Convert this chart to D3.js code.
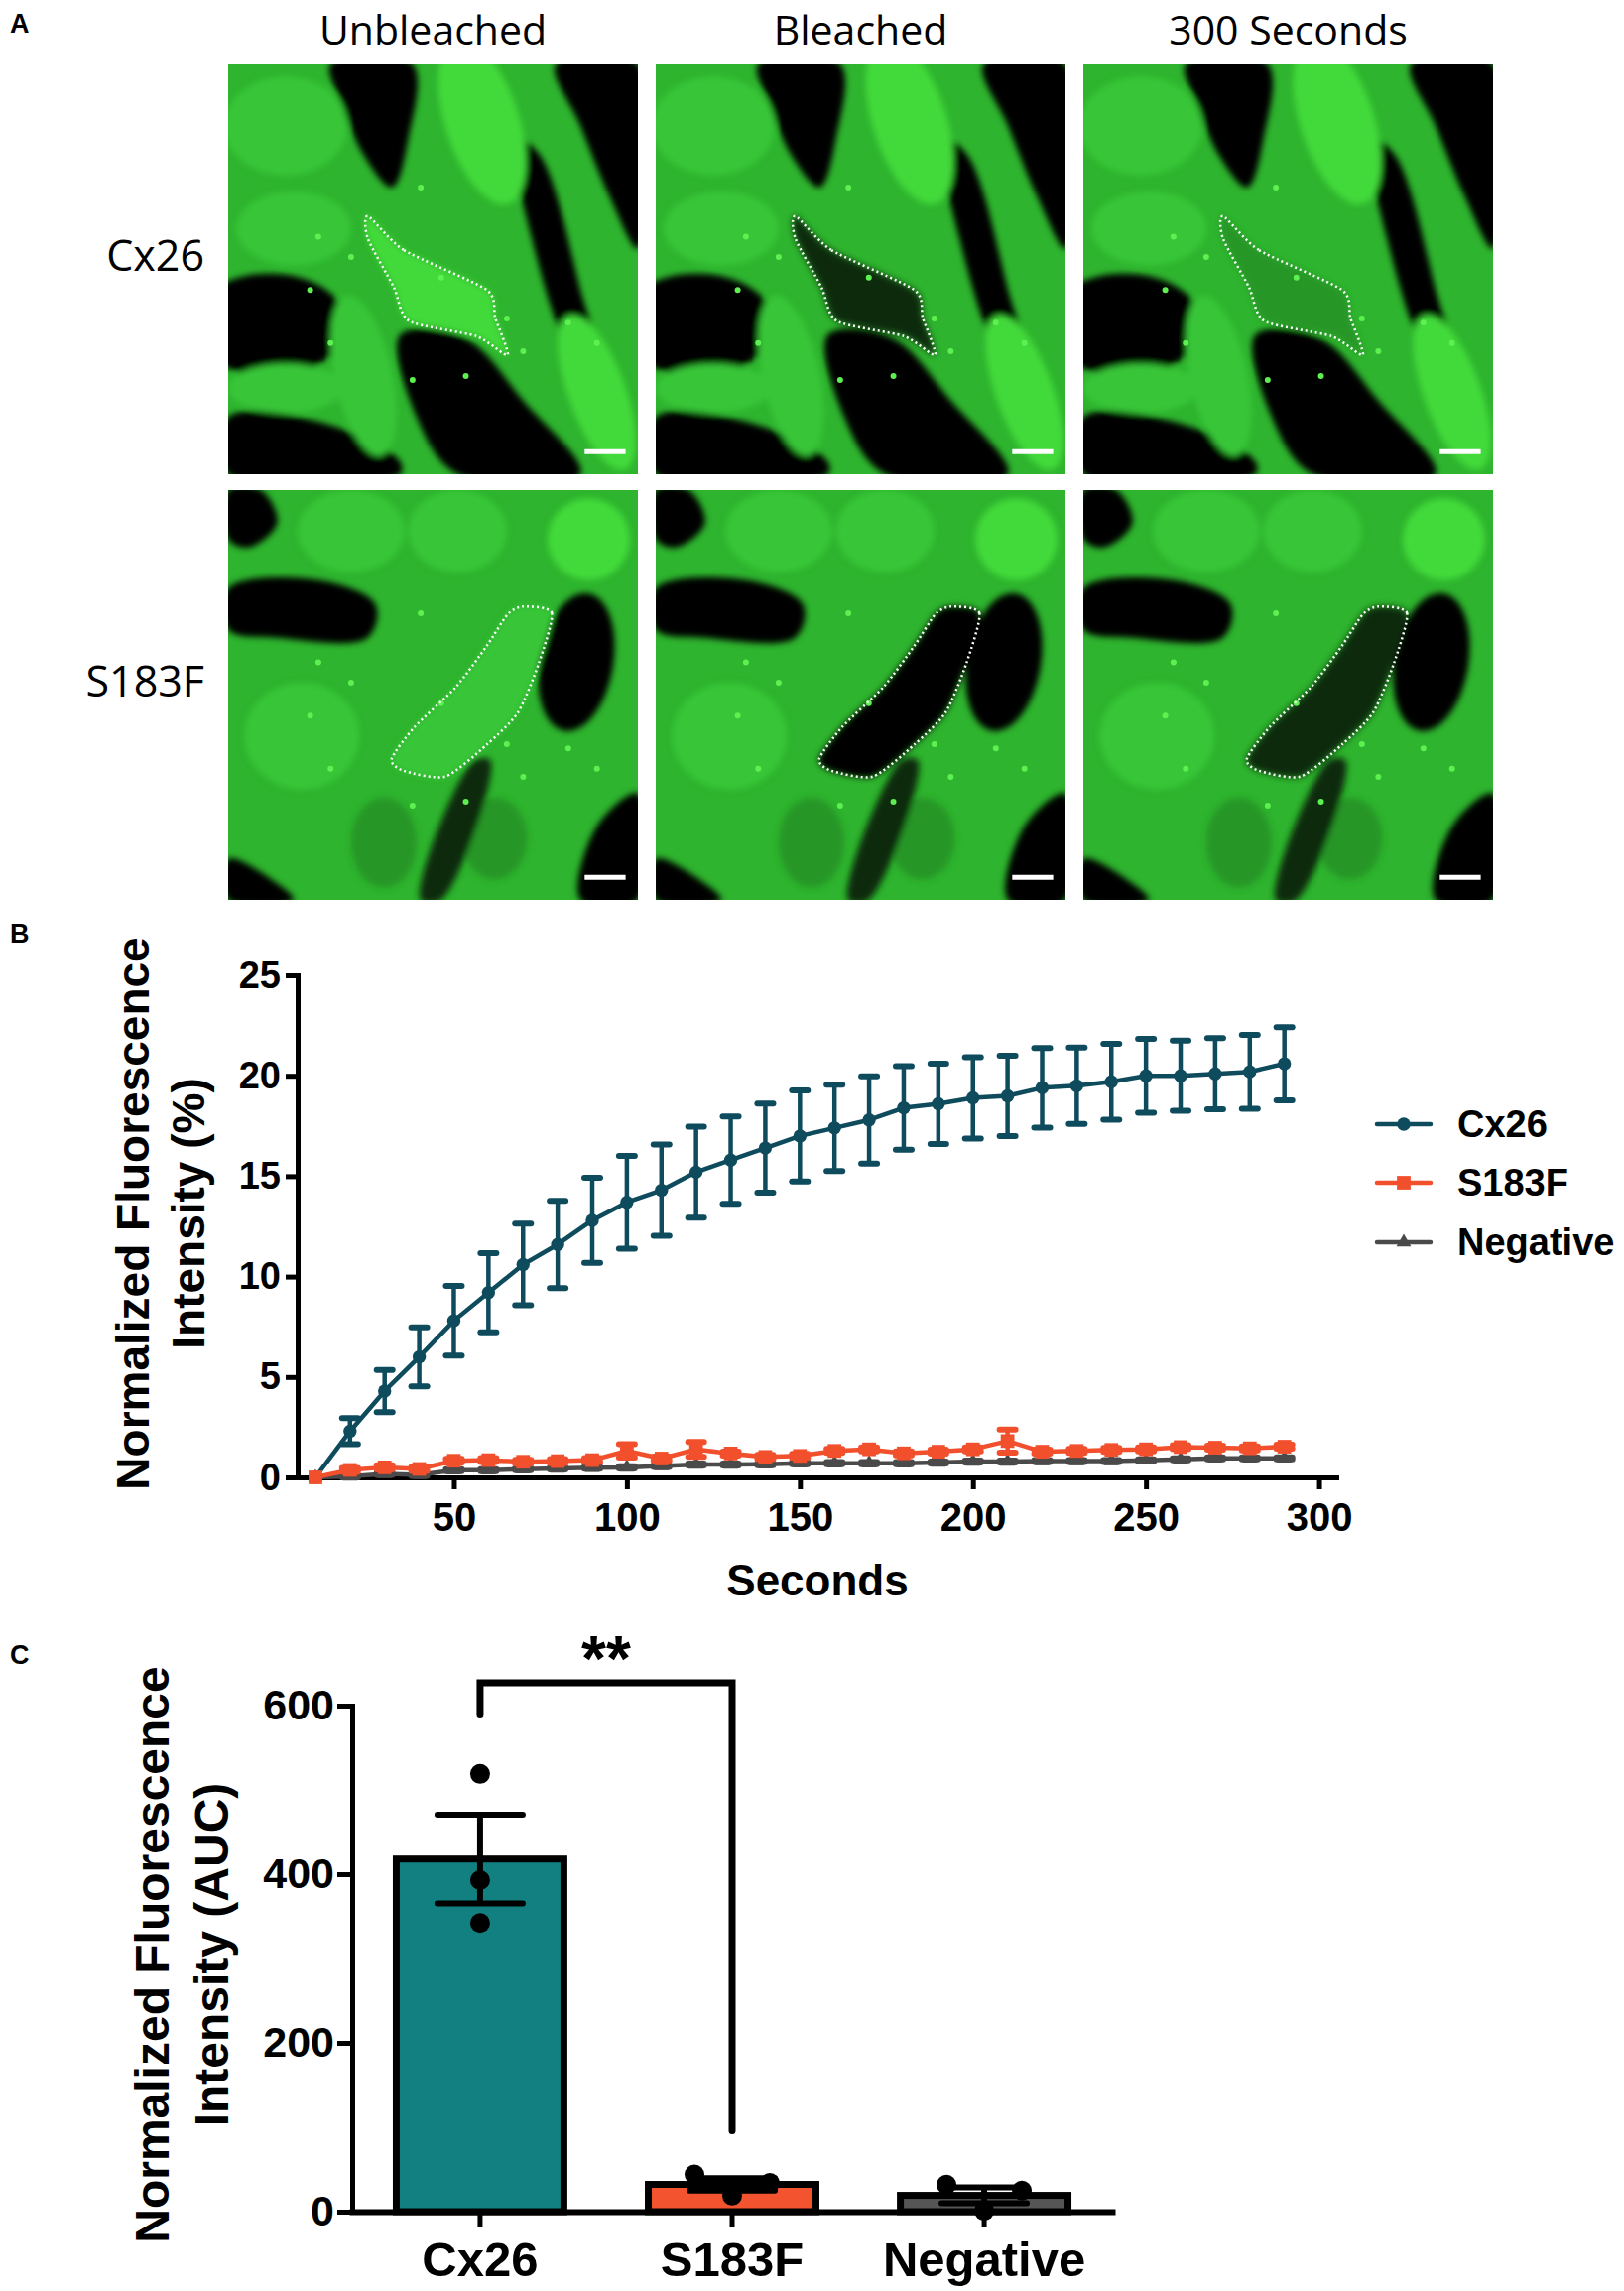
<!DOCTYPE html>
<html>
<head>
<meta charset="utf-8">
<script src="https://cdn.jsdelivr.net/npm/d3@7"></script>
<style>
  body { margin: 0; background: #fff; }
  svg text { font-family: "Liberation Sans", Arial, sans-serif; }
</style>
</head>
<body>
<div id="fig"></div>
<script>
// ---- panel B data (FRAP recovery, mean +/- SEM) ----
const seconds = [10, 20, 30, 40, 50, 60, 70, 80, 90, 100, 110, 120, 130, 140, 150,
                 160, 170, 180, 190, 200, 210, 220, 230, 240, 250, 260, 270, 280, 290];
const cx26Mean = [0, 2.3, 4.3, 6.0, 7.8, 9.2, 10.6, 11.6, 12.8, 13.7, 14.3, 15.2, 15.8, 16.4, 17.0,
                  17.4, 17.8, 18.4, 18.6, 18.9, 19.0, 19.4, 19.5, 19.7, 20.0, 20.0, 20.1, 20.2, 20.6];
const cx26Sem = [0, 0.65, 1.05, 1.47, 1.73, 1.97, 2.03, 2.17, 2.12, 2.31, 2.27, 2.27, 2.17, 2.22, 2.27,
                 2.15, 2.17, 2.08, 2.0, 2.03, 2.0, 1.98, 1.9, 1.89, 1.84, 1.75, 1.77, 1.84, 1.82];
const s183fMean = [0, 0.37, 0.5, 0.42, 0.83, 0.86, 0.78, 0.81, 0.86, 1.32, 0.94, 1.40, 1.19, 1.02, 1.07,
                   1.32, 1.40, 1.20, 1.28, 1.40, 1.81, 1.28, 1.32, 1.37, 1.40, 1.51, 1.48, 1.45, 1.53];
const s183fSem = [0, 0.1, 0.1, 0.1, 0.1, 0.1, 0.1, 0.1, 0.1, 0.33, 0.1, 0.37, 0.1, 0.1, 0.1,
                  0.1, 0.1, 0.1, 0.1, 0.1, 0.58, 0.1, 0.1, 0.1, 0.1, 0.1, 0.1, 0.1, 0.1];
const negMean = [0, 0.05, 0.17, 0.12, 0.36, 0.36, 0.41, 0.45, 0.48, 0.5, 0.57, 0.64, 0.64, 0.66, 0.71,
                 0.71, 0.71, 0.71, 0.74, 0.79, 0.79, 0.82, 0.82, 0.82, 0.85, 0.9, 0.95, 0.95, 0.95];
const negSem = [0, 0.05, 0.05, 0.05, 0.05, 0.05, 0.05, 0.05, 0.05, 0.05, 0.05, 0.05, 0.05, 0.05, 0.05,
                0.05, 0.05, 0.05, 0.05, 0.05, 0.05, 0.05, 0.05, 0.05, 0.05, 0.05, 0.05, 0.05, 0.05];
const bTicksX = [50, 100, 150, 200, 250, 300];
const bTicksY = [0, 5, 10, 15, 20, 25];

// ---- panel C data (AUC, individual replicates) ----
const groups = ["Cx26", "S183F", "Negative"];
const cx26Auc = [519, 393, 342];
const s183fAuc = [44, 34, 19];
const negAuc = [32, 25, 1];
const dotSpread = [[0, 0, 0], [-1, 1, 0], [-1, 1, 0]];
const cTicksY = [0, 200, 400, 600];

// ---- panel A labels ----
const columnTitles = ["Unbleached", "Bleached", "300 Seconds"];
const rowTitles = ["Cx26", "S183F"];

const seriesColors = { Cx26: "#0e4b5d", S183F: "#f24f2d", Negative: "#4a4a4a" };
const barColors = { Cx26: "#128080", S183F: "#f4532f", Negative: "#555555" };

const W = 1637, H = 2309;
const svg = d3.select("#fig").append("svg").attr("width", W).attr("height", H);
const bold = sel => sel.attr("font-weight", "bold").attr("fill", "#000");

// panel letters
[["A", 33], ["B", 950], ["C", 1677]].forEach(([t, y]) => {
  svg.append("text").attr("x", 10).attr("y", y).attr("font-size", 27).call(bold).text(t);
});

// ======================= PANEL A (stylised micrographs) =======================
const tileX = [230, 661, 1092], tileY = [65, 494], tileW = 413;
const G = { base: "#2eb42e", bright: "#42da3a", mid: "#37c637", dim: "#259625", dark: "#0a2a0a", black: "#000" };

const cx26Shapes = [
  { poly: [[0.25, 0], [0.45, 0], [0.44, 0.18], [0.40, 0.30], [0.33, 0.22], [0.28, 0.1]], fill: "black" },
  { poly: [[0.80, 0], [1, 0], [1, 0.45], [0.93, 0.32], [0.86, 0.15]], fill: "black" },
  { poly: [[0.70, 0.18], [0.76, 0.22], [0.86, 0.55], [0.9, 0.72], [0.84, 0.7], [0.74, 0.42]], fill: "black" },
  { poly: [[0, 0.86], [0.25, 0.88], [0.42, 0.97], [0.42, 1], [0, 1]], fill: "black" },
  { ell: [0.62, 0.14, 0.09, 0.21, -18], fill: "bright" },
  { ell: [0.14, 0.15, 0.15, 0.12, 0], fill: "mid" },
  { ell: [0.16, 0.40, 0.14, 0.09, 0], fill: "mid" },
  { ell: [0.10, 0.635, 0.19, 0.125, 0], fill: "black" },
  { poly: [[0.42, 0.66], [0.58, 0.67], [0.72, 0.82], [0.86, 1], [0.56, 1], [0.46, 0.86]], fill: "black" },
  { ell: [0.33, 0.76, 0.07, 0.2, -12], fill: "mid" },
  { ell: [0.90, 0.80, 0.07, 0.2, -20], fill: "bright" },
  { ell: [0.14, 0.79, 0.14, 0.06, 0], fill: "mid" }
];
const s183fShapes = [
  { poly: [[0, 0], [0.08, 0], [0.12, 0.08], [0.05, 0.14], [0, 0.12]], fill: "black" },
  { ell: [0.30, 0.10, 0.13, 0.10, 0], fill: "mid" },
  { ell: [0.56, 0.10, 0.12, 0.10, 0], fill: "mid" },
  { ell: [0.88, 0.12, 0.1, 0.1, 0], fill: "bright" },
  { poly: [[0, 0.24], [0.22, 0.22], [0.36, 0.28], [0.34, 0.36], [0.12, 0.36], [0, 0.34]], fill: "black" },
  { ell: [0.85, 0.42, 0.09, 0.17, 10], fill: "black" },
  { ell: [0.18, 0.60, 0.14, 0.13, 0], fill: "mid" },
  { ell: [0.38, 0.86, 0.08, 0.11, 0], fill: "dim" },
  { ell: [0.65, 0.85, 0.08, 0.10, 0], fill: "dim" },
  { poly: [[0.6, 0.66], [0.64, 0.66], [0.52, 1], [0.47, 1]], fill: "dark" },
  { poly: [[0.9, 0.82], [1, 0.74], [1, 1], [0.86, 1]], fill: "black" },
  { poly: [[0, 0.9], [0.12, 0.96], [0.16, 1], [0, 1]], fill: "black" }
];
const cx26Roi = [[0.341, 0.370], [0.429, 0.453], [0.631, 0.550], [0.652, 0.619], [0.682, 0.709],
                 [0.606, 0.663], [0.442, 0.626], [0.404, 0.543], [0.341, 0.425]];
const s183fRoi = [[0.72, 0.284], [0.79, 0.30], [0.758, 0.423], [0.707, 0.543], [0.631, 0.621], [0.53, 0.699],
                  [0.429, 0.685], [0.399, 0.656], [0.455, 0.578], [0.556, 0.48], [0.631, 0.38], [0.682, 0.303]];
const speckles = [[0.22, 0.42], [0.30, 0.47], [0.47, 0.3], [0.52, 0.52], [0.68, 0.62], [0.72, 0.7],
                  [0.2, 0.55], [0.25, 0.68], [0.83, 0.63], [0.9, 0.68], [0.58, 0.76], [0.45, 0.77]];
const rowShapes = [cx26Shapes, s183fShapes];
const rowRois = [cx26Roi, s183fRoi];
const roiFill = [["bright", "dark", "dim"], ["mid", "black", "dark"]];

columnTitles.forEach((t, c) => {
  svg.append("text").attr("x", tileX[c] + tileW / 2).attr("y", 45)
    .attr("text-anchor", "middle").attr("font-size", 41)
    .style("font-family", "'Open Sans', sans-serif").text(t);
});
rowTitles.forEach((t, r) => {
  svg.append("text").attr("x", 206).attr("y", tileY[r] + 208)
    .attr("text-anchor", "end").attr("font-size", 43)
    .style("font-family", "'Open Sans', sans-serif").text(t);
});

const defs = svg.append("defs");
defs.append("filter").attr("id", "soft").attr("x", "-10%").attr("y", "-10%")
  .attr("width", "120%").attr("height", "120%")
  .append("feGaussianBlur").attr("stdDeviation", 3);

rowShapes.forEach((shapes, r) => {
  tileX.forEach((x0, c) => {
    const y0 = tileY[r];
    const u = d3.scaleLinear().domain([0, 1]).range([x0, x0 + tileW]);
    const v = d3.scaleLinear().domain([0, 1]).range([y0, y0 + tileW]);
    const id = `clip-${r}-${c}`;
    defs.append("clipPath").attr("id", id).append("rect")
      .attr("x", x0).attr("y", y0).attr("width", tileW).attr("height", tileW);
    const g = svg.append("g").attr("clip-path", `url(#${id})`);
    g.append("rect").attr("x", x0).attr("y", y0).attr("width", tileW).attr("height", tileW).attr("fill", G.base);
    const soft = g.append("g").attr("filter", "url(#soft)");
    const poly = d3.line().x(p => u(p[0])).y(p => v(p[1])).curve(d3.curveCatmullRomClosed);
    shapes.forEach(s => {
      if (s.poly) {
        soft.append("path").attr("d", poly(s.poly)).attr("fill", G[s.fill]);
      } else {
        const [cx, cy, rx, ry, rot] = s.ell;
        soft.append("ellipse").attr("cx", u(cx)).attr("cy", v(cy))
          .attr("rx", rx * tileW).attr("ry", ry * tileW)
          .attr("transform", `rotate(${rot},${u(cx)},${v(cy)})`)
          .attr("fill", G[s.fill]);
      }
    });
    const roiLine = d3.line().x(p => u(p[0])).y(p => v(p[1])).curve(d3.curveCardinalClosed.tension(0.3));
    soft.append("path").attr("d", roiLine(rowRois[r])).attr("fill", G[roiFill[r][c]]);
    g.selectAll(".spk").data(speckles).join("circle")
      .attr("cx", p => u(p[0])).attr("cy", p => v(p[1])).attr("r", 3).attr("fill", "#5ef050");
    g.append("path").attr("d", roiLine(rowRois[r]))
      .attr("fill", "none")
      .attr("stroke", "#fff").attr("stroke-width", 2.5).attr("stroke-dasharray", "2,3");
    // scale bar
    g.append("line").attr("x1", u(0.87)).attr("x2", u(0.97)).attr("y1", v(0.945)).attr("y2", v(0.945))
      .attr("stroke", "#fff").attr("stroke-width", 5);
  });
});

// ======================= PANEL B =======================
const xB = d3.scaleLinear().domain([5, 305]).range([300.5, 1347]);
const yB = d3.scaleLinear().domain([0, 25]).range([1489, 983]);

const styleAxis = (g, size) => {
  g.select(".domain").attr("stroke-width", 5).attr("stroke-linecap", "square");
  g.selectAll(".tick line").attr("stroke-width", 5);
  g.selectAll(".tick text").attr("font-size", size).attr("font-weight", "bold")
    .attr("fill", "#000").style("font-family", "'Liberation Sans', Arial, sans-serif");
};

svg.append("g").attr("transform", "translate(300,0)")
  .call(d3.axisLeft(yB).tickValues(bTicksY).tickSize(12).tickSizeOuter(0).tickPadding(5))
  .call(g => styleAxis(g, 38));
svg.append("g").attr("transform", "translate(0,1489)")
  .call(d3.axisBottom(xB).tickValues(bTicksX).tickSize(12).tickSizeOuter(0).tickPadding(14))
  .call(g => styleAxis(g, 40));

svg.append("text").attr("x", 824).attr("y", 1608).attr("text-anchor", "middle")
  .attr("font-size", 44).call(bold).text("Seconds");
const yTitleB = svg.append("text").attr("transform", "translate(0,1223) rotate(-90)")
  .attr("text-anchor", "middle").attr("font-size", 46).call(bold);
yTitleB.append("tspan").attr("x", 0).attr("y", 150).text("Normalized Fluorescence");
yTitleB.append("tspan").attr("x", 0).attr("y", 206).text("Intensity (%)");

const series = [
  { name: "Cx26", mean: cx26Mean, sem: cx26Sem, symbol: d3.symbolCircle, size: 140 },
  { name: "Negative", mean: negMean, sem: negSem, symbol: d3.symbolTriangle, size: 95 },
  { name: "S183F", mean: s183fMean, sem: s183fSem, symbol: d3.symbolSquare, size: 190 }
];

series.forEach(s => {
  const pts = seconds.map((t, i) => ({ t, m: s.mean[i], e: s.sem[i] }));
  const col = seriesColors[s.name];
  const g = svg.append("g");
  g.append("path").datum(pts)
    .attr("d", d3.line().x(d => xB(d.t)).y(d => yB(d.m)))
    .attr("fill", "none").attr("stroke", col).attr("stroke-width", 4.5).attr("stroke-linejoin", "round");
  const eb = g.selectAll(".eb").data(pts.filter(d => d.e > 0)).join("g");
  eb.append("line").attr("x1", d => xB(d.t)).attr("x2", d => xB(d.t))
    .attr("y1", d => yB(d.m - d.e)).attr("y2", d => yB(d.m + d.e))
    .attr("stroke", col).attr("stroke-width", 4.5);
  [1, -1].forEach(sign => {
    eb.append("line").attr("x1", d => xB(d.t) - 8).attr("x2", d => xB(d.t) + 8)
      .attr("y1", d => yB(d.m + sign * d.e)).attr("y2", d => yB(d.m + sign * d.e))
      .attr("stroke", col).attr("stroke-width", 6).attr("stroke-linecap", "round");
  });
  g.selectAll(".pt").data(pts).join("path")
    .attr("d", d3.symbol().type(s.symbol).size(s.size))
    .attr("transform", d => `translate(${xB(d.t)},${yB(d.m)})`)
    .attr("fill", col);
});

// legend
const legendY = { Cx26: 1133, S183F: 1192, Negative: 1252 };
[series[0], series[2], series[1]].forEach(s => {
  const col = seriesColors[s.name], cy = legendY[s.name];
  svg.append("line").attr("x1", 1388).attr("x2", 1442).attr("y1", cy).attr("y2", cy)
    .attr("stroke", col).attr("stroke-width", 4.5).attr("stroke-linecap", "round");
  svg.append("path").attr("d", d3.symbol().type(s.symbol).size(s.size))
    .attr("transform", `translate(1415,${cy})`).attr("fill", col);
  svg.append("text").attr("x", 1469).attr("y", cy + 13).attr("font-size", 38).call(bold).text(s.name);
});

// ======================= PANEL C =======================
const aucByGroup = [cx26Auc, s183fAuc, negAuc];
const xC = d3.scaleBand().domain(groups).range([355, 1121]).paddingInner(0.335).paddingOuter(0.175);
const yC = d3.scaleLinear().domain([0, 600]).range([2229, 1719]);

svg.append("g").attr("transform", "translate(355,0)")
  .call(d3.axisLeft(yC).tickValues(cTicksY).tickSize(15).tickSizeOuter(0).tickPadding(3))
  .call(g => styleAxis(g, 43));

const bars = groups.map((name, i) => {
  const vals = aucByGroup[i];
  const mean = d3.mean(vals);
  const sem = d3.deviation(vals) / Math.sqrt(vals.length);
  return { name, vals, mean, sem, spread: dotSpread[i] };
});

svg.selectAll(".bar").data(bars).join("rect")
  .attr("x", d => xC(d.name)).attr("width", xC.bandwidth())
  .attr("y", d => yC(d.mean)).attr("height", d => yC(0) - yC(d.mean))
  .attr("fill", d => barColors[d.name]).attr("stroke", "#000").attr("stroke-width", 7);

svg.append("g").attr("transform", "translate(0,2229)")
  .call(d3.axisBottom(xC).tickSize(15).tickSizeOuter(0).tickPadding(15))
  .call(g => styleAxis(g, 49))
  .call(g => g.select(".domain").attr("stroke-width", 6));

const mid = d => xC(d.name) + xC.bandwidth() / 2;
const errG = svg.selectAll(".err").data(bars).join("g");
errG.append("line").attr("x1", mid).attr("x2", mid)
  .attr("y1", d => yC(d.mean - d.sem)).attr("y2", d => yC(d.mean + d.sem))
  .attr("stroke", "#000").attr("stroke-width", 6);
[1, -1].forEach(sign => {
  errG.append("line").attr("x1", d => mid(d) - 43).attr("x2", d => mid(d) + 43)
    .attr("y1", d => yC(d.mean + sign * d.sem)).attr("y2", d => yC(d.mean + sign * d.sem))
    .attr("stroke", "#000").attr("stroke-width", 6).attr("stroke-linecap", "round");
});
errG.each(function (d) {
  d3.select(this).selectAll("circle").data(d.vals).join("circle")
    .attr("cx", (v, j) => mid(d) + d.spread[j] * 38).attr("cy", v => yC(v))
    .attr("r", 10).attr("fill", "#000");
});

// significance bracket Cx26 vs S183F
const bx1 = mid(bars[0]), bx2 = mid(bars[1]);
svg.append("path")
  .attr("d", `M${bx1},${yC(590)}V${yC(627)}H${bx2}V${yC(96)}`)
  .attr("fill", "none").attr("stroke", "#000").attr("stroke-width", 7)
  .attr("stroke-linecap", "round").attr("stroke-linejoin", "miter");
svg.append("text").attr("x", (bx1 + bx2) / 2).attr("y", 1694).attr("text-anchor", "middle")
  .attr("font-size", 64).call(bold).text("**");

const yTitleC = svg.append("text").attr("transform", "translate(0,1970) rotate(-90)")
  .attr("text-anchor", "middle").attr("font-size", 48).call(bold);
yTitleC.append("tspan").attr("x", 0).attr("y", 170).text("Normalized Fluorescence");
yTitleC.append("tspan").attr("x", 0).attr("y", 230).text("Intensity (AUC)");
</script>
</body>
</html>
